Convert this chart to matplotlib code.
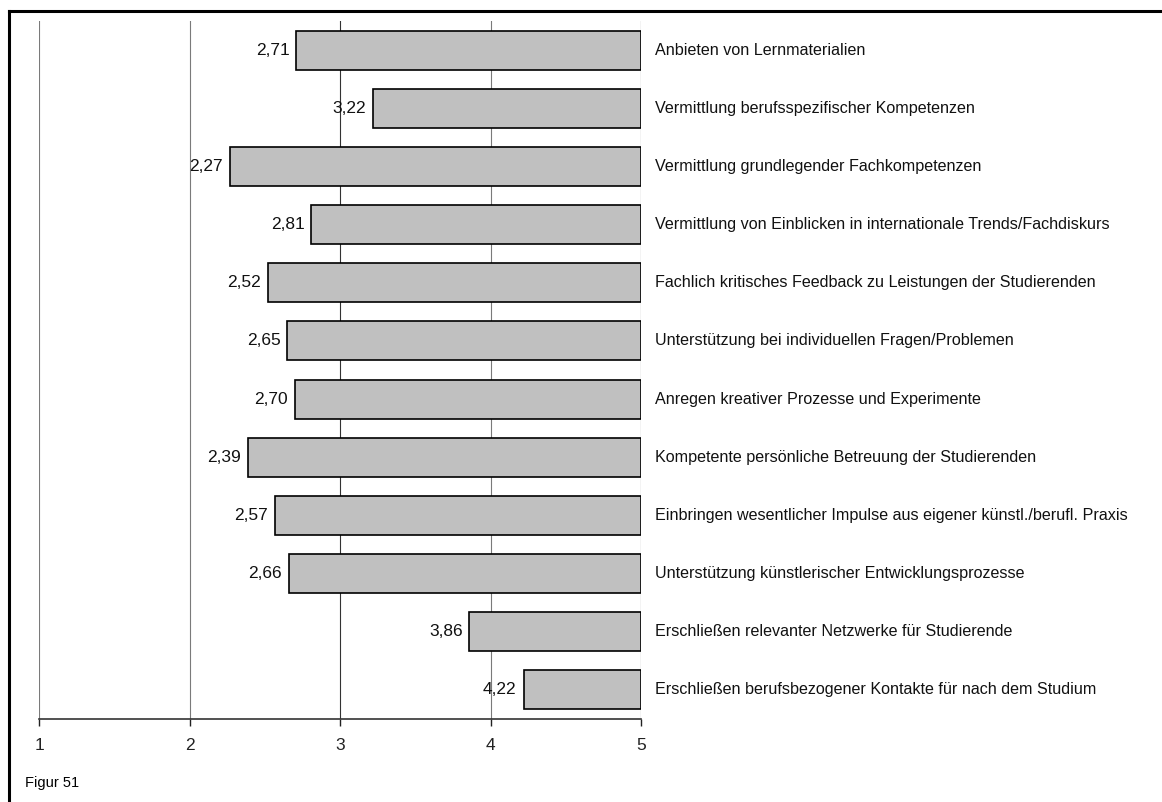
import numpy as np
import matplotlib.pyplot as plt
from matplotlib.lines import Line2D

plt.rcParams["font.family"] = ["Liberation Sans", "DejaVu Sans"]

categories = [
    "Anbieten von Lernmaterialien",
    "Vermittlung berufsspezifischer Kompetenzen",
    "Vermittlung grundlegender Fachkompetenzen",
    "Vermittlung von Einblicken in internationale Trends/Fachdiskurs",
    "Fachlich kritisches Feedback zu Leistungen der Studierenden",
    "Unterstützung bei individuellen Fragen/Problemen",
    "Anregen kreativer Prozesse und Experimente",
    "Kompetente persönliche Betreuung der Studierenden",
    "Einbringen wesentlicher Impulse aus eigener künstl./berufl. Praxis",
    "Unterstützung künstlerischer Entwicklungsprozesse",
    "Erschließen relevanter Netzwerke für Studierende",
    "Erschließen berufsbezogener Kontakte für nach dem Studium",
]
values = [2.71, 3.22, 2.27, 2.81, 2.52, 2.65, 2.70, 2.39, 2.57, 2.66, 3.86, 4.22]
x_ticks = [1, 2, 3, 4, 5]
x_max = 5

W, H = 1162, 802
fig = plt.figure(figsize=(W / 100, H / 100), dpi=100)
ax = fig.add_axes([39 / W, 83 / H, (641 - 39) / W, (719 - 21) / H])

y = np.arange(len(categories))
widths = [x_max - v for v in values]

# gridlines: 3 and 5 a bit darker than the others, as in the source
grid_colors = ["#7a7a7a", "#7a7a7a", "#333333", "#7a7a7a", "#333333"]
for xt, gc in zip(x_ticks, grid_colors):
    ax.axvline(xt, color=gc, linewidth=0.8, zorder=0)

ax.barh(y, widths, left=values, height=0.67, color="#c0c0c0",
        edgecolor="black", linewidth=1.2, zorder=2)

for yi, v in zip(y, values):
    ax.annotate(f"{v:.2f}".replace(".", ","), xy=(v, yi), xytext=(-5, 0),
                textcoords="offset points", ha="right", va="center",
                fontsize=12.5, color="#111111", zorder=3)
    ax.annotate(categories[yi], xy=(x_max, yi), xytext=(10, 0),
                textcoords="offset points", ha="left", va="center",
                fontsize=11.6, color="#111111", annotation_clip=False)

ax.set_xlim(1, 5)
ax.set_ylim(len(categories) - 0.5, -0.5)
ax.set_xticks(x_ticks)
ax.set_xticklabels([str(t) for t in x_ticks], fontsize=12.5)
ax.set_yticks([])
ax.tick_params(axis="x", direction="out", length=5, width=1, pad=9, colors="#222222")
for side in ["top", "right", "left"]:
    ax.spines[side].set_visible(False)
ax.spines["bottom"].set_linewidth(1.2)
ax.spines["bottom"].set_color("#333333")

fig.text(25 / W, 1 - 783 / H, "Figur 51", fontsize=10.5, ha="left", va="center")

# outer frame (only top and left edges visible)
fig.add_artist(Line2D([8.5 / W, 8.5 / W], [0, 1 - 11 / H], color="black", linewidth=2.2))
fig.add_artist(Line2D([8.5 / W, 1], [1 - 11 / H, 1 - 11 / H], color="black", linewidth=2.2))

fig.savefig("out.png", dpi=100)
